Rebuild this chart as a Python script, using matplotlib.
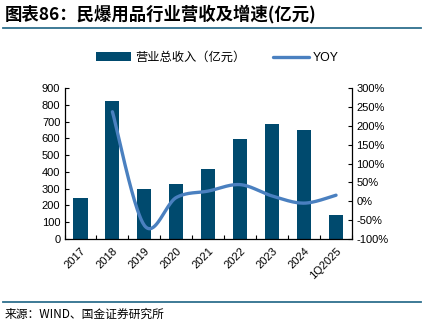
import numpy as np
import matplotlib
matplotlib.use("Agg")
import matplotlib.pyplot as plt
from matplotlib.lines import Line2D

categories = ["2017", "2018", "2019", "2020", "2021", "2022", "2023", "2024", "1Q2025"]
revenue = [246, 824, 300, 328, 417, 598, 685, 651, 143]
yoy = [None, 237, -64, 10, 27, 44, 14, -5, 16]

plt.rcParams['font.family'] = ['Liberation Sans', 'Noto Sans CJK SC', 'DejaVu Sans']

W, H = 424, 322
fig = plt.figure(figsize=(W / 100, H / 100), dpi=100)
fig.patch.set_facecolor("white")

L, R, T, B = 64.5, 352, 88, 239
ax = fig.add_axes([L / W, 1 - B / H, (R - L) / W, (B - T) / H])
ax2 = ax.twinx()

bar_color = "#004A6E"
line_color = "#4A80C0"

x = np.arange(len(categories))
ax.bar(x, revenue, width=0.44, color=bar_color, zorder=2, label="营业总收入（亿元）")
ax.set_xlim(-0.5, len(categories) - 0.5)
ax.set_ylim(0, 900)
ax.set_yticks(np.arange(0, 901, 100))
ax.set_xticks(x)
ax.set_xticklabels(categories, rotation=45, ha="right", rotation_mode="anchor", fontsize=8)
ax.set_xticks(np.arange(-0.5, len(categories), 1), minor=True)
ax.tick_params(axis="x", which="major", length=0, pad=5)
ax.tick_params(axis="x", which="minor", length=3, direction="in", width=0.8)
ax.tick_params(axis="y", direction="in", length=3, width=0.8, labelsize=8, pad=3)

# smoothed YOY line (Bezier smoothing like Excel)
pts = [(i, v) for i, v in enumerate(yoy) if v is not None]
px = np.array([p[0] for p in pts], dtype=float)
py = np.array([p[1] for p in pts], dtype=float)
n = len(px)
cx, cy = [], []
t = np.linspace(0, 1, 40)
for i in range(n - 1):
    p0 = (px[i - 1], py[i - 1]) if i > 0 else (px[i], py[i])
    p1 = (px[i], py[i])
    p2 = (px[i + 1], py[i + 1])
    p3 = (px[i + 2], py[i + 2]) if i + 2 < n else (px[i + 1], py[i + 1])
    c1 = (p1[0] + (p2[0] - p0[0]) / 6, p1[1] + (p2[1] - p0[1]) / 6)
    c2 = (p2[0] - (p3[0] - p1[0]) / 6, p2[1] - (p3[1] - p1[1]) / 6)
    bx = (1 - t) ** 3 * p1[0] + 3 * (1 - t) ** 2 * t * c1[0] + 3 * (1 - t) * t ** 2 * c2[0] + t ** 3 * p2[0]
    by = (1 - t) ** 3 * p1[1] + 3 * (1 - t) ** 2 * t * c1[1] + 3 * (1 - t) * t ** 2 * c2[1] + t ** 3 * p2[1]
    cx.extend(bx)
    cy.extend(by)
ax2.plot(cx, cy, color=line_color, lw=2.4, solid_capstyle="round", label="YOY", zorder=3)
ax2.set_ylim(-100, 300)
ax2.set_yticks(np.arange(-100, 301, 50))
ax2.set_yticklabels([f"{v}%" for v in range(-100, 301, 50)])
ax2.tick_params(axis="y", direction="in", length=3, width=0.8, labelsize=8, pad=3)

for a in (ax, ax2):
    a.spines["top"].set_visible(False)
    for s in ("left", "right", "bottom"):
        a.spines[s].set_linewidth(0.9)
        a.spines[s].set_color("black")
ax.spines["right"].set_visible(False)
ax2.spines["left"].set_visible(False)
ax2.spines["bottom"].set_visible(False)

h1, l1 = ax.get_legend_handles_labels()
h2, l2 = ax2.get_legend_handles_labels()
fig.legend(h1 + h2, l1 + l2, loc="center", bbox_to_anchor=(217 / W, 1 - 58 / H), ncol=2,
           frameon=False, fontsize=8.8, handlelength=2.9, handleheight=0.8,
           columnspacing=2.3, handletextpad=0.3)

fig.text(5 / W, 1 - 14 / H, "图表86：民爆用品行业营收及增速(亿元)", fontsize=12.5, fontweight="bold",
         fontstyle="italic", family=["Noto Sans CJK SC"], va="center", ha="left")
fig.add_artist(Line2D([3 / W, 421 / W], [1 - 28 / H, 1 - 28 / H], color="#2E6F8E", lw=1.3))
fig.add_artist(Line2D([3 / W, 421 / W], [1 - 302 / H, 1 - 302 / H], color="#2E6F8E", lw=1.3))
fig.text(5 / W, 1 - 314 / H, "来源：WIND、国金证券研究所", fontsize=8.5,
         family=["Noto Sans CJK SC"], va="center", ha="left")

fig.savefig("out.png", dpi=100)
